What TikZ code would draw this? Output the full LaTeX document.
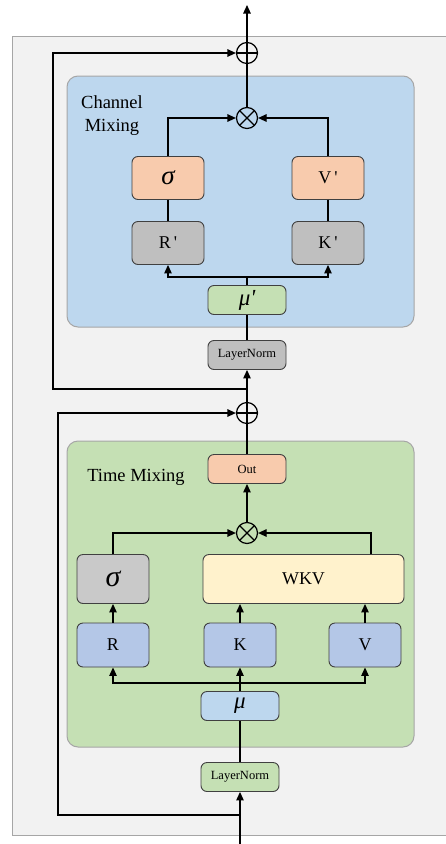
\documentclass[tikz,border=0pt]{standalone}
\usepackage{fontspec}
\setmainfont{Liberation Serif}[Ligatures=TeXOff]
\usetikzlibrary{arrows.meta}
\definecolor{bgout}{HTML}{F2F2F2}
\definecolor{bluebg}{HTML}{BDD7EE}
\definecolor{greenbg}{HTML}{C5E0B4}
\definecolor{orangec}{HTML}{F8CBAD}
\definecolor{grayc}{HTML}{BFBFBF}
\definecolor{grayd}{HTML}{C9C9C9}
\definecolor{bluec}{HTML}{B4C7E7}
\definecolor{yellowc}{HTML}{FFF2CC}
\definecolor{edgec}{HTML}{404040}
\definecolor{framec}{HTML}{A6A6A6}
\tikzset{
  box/.style={draw=edgec, line width=0.9pt, rounded corners=6pt, inner sep=0pt, align=center, font=\fontsize{18}{20}\selectfont},
  smallbox/.style={box, minimum width=78pt, minimum height=29pt, font=\fontsize{12.5}{15}\selectfont},
  midbox/.style={box, minimum width=72pt, minimum height=44pt},
  arr/.style={-{Triangle[length=8.5pt,width=7.5pt]}, line width=1.2pt},
  ln/.style={line width=1.2pt},
  opplus/.style={circle, draw, line width=1.2pt, minimum size=21pt, inner sep=0pt,
    path picture={\draw[line width=1.2pt] (path picture bounding box.north) -- (path picture bounding box.south)
      (path picture bounding box.west) -- (path picture bounding box.east);}},
  optimes/.style={circle, draw, line width=1.2pt, minimum size=21pt, inner sep=0pt,
    path picture={\draw[line width=1.2pt] (path picture bounding box.north west) -- (path picture bounding box.south east)
      (path picture bounding box.south west) -- (path picture bounding box.north east);}},
  title/.style={align=center, font=\fontsize{18.5}{23}\selectfont, inner sep=0pt}
}
\begin{document}
\begin{tikzpicture}[x=1pt, y=-1pt]
\useasboundingbox (0,0) rectangle (445,844);
% frames
\draw[framec, fill=bgout, line width=1pt] (12,36) rectangle (452,835);
\draw[framec, fill=bluebg, line width=1pt, rounded corners=11pt] (67,76) rectangle (414,327);
\draw[framec, fill=greenbg, line width=1pt, rounded corners=11pt] (67,441) rectangle (414,747);

% upper (channel mixing)
\node[opplus] (plusTop) at (247,53) {};
\node[optimes] (mulC) at (247,118) {};
\node[title] (chTitle) at (112,116) {Channel\\Mixing};
\node[midbox, fill=orangec, minimum height=43pt] (sigC) at (168,178) {\fontsize{27}{27}\selectfont\itshape σ};
\node[midbox, fill=orangec, minimum height=43pt] (vC) at (328,178) {V\,'};
\node[midbox, fill=grayc, minimum height=43pt] (rC) at (168,243) {R\,'};
\node[midbox, fill=grayc, minimum height=43pt] (kC) at (328,243) {K\,'};
\node[smallbox, fill=greenbg] (muC) at (247,300) {\fontsize{23}{23}\selectfont\itshape μ'};
\node[smallbox, fill=grayc] (lnC) at (247,355) {LayerNorm};
\coordinate (outTop) at (247,5);
\coordinate (brC) at (247,277);
\coordinate (s1) at (247,389);
\coordinate (s1c) at (53,389);

\draw[arr] (plusTop.north) -- (outTop);
\draw[ln] (mulC.north) -- (plusTop.south);
\draw[arr] (sigC.north) |- (mulC.west);
\draw[arr] (vC.north) |- (mulC.east);
\draw[ln] (sigC.south) -- (rC.north);
\draw[ln] (vC.south) -- (kC.north);
\draw[ln] (muC.north) -- (brC);
\draw[arr] (brC) -| (rC.south);
\draw[arr] (brC) -| (kC.south);
\draw[ln] (lnC.north) -- (muC.south);
\draw[arr] (s1) -- (s1c) |- (plusTop.west);

% lower (time mixing)
\node[opplus] (plusT) at (247,413) {};
\node[title] (tmTitle) at (136,477) {Time Mixing};
\node[smallbox, fill=orangec] (outN) at (247,469) {Out};
\node[optimes] (mulT) at (247,533) {};
\node[midbox, fill=grayd, minimum height=49pt] (sigT) at (113,579) {\fontsize{30}{30}\selectfont\itshape σ};
\node[midbox, fill=yellowc, minimum width=201pt, minimum height=49pt] (wkv) at (303.5,579) {WKV};
\node[midbox, fill=bluec] (rT) at (113,645) {R};
\node[midbox, fill=bluec] (kT) at (240,645) {K};
\node[midbox, fill=bluec] (vT) at (365,645) {V};
\node[smallbox, fill=bluebg] (muT) at (240,706) {\fontsize{23}{23}\selectfont\itshape μ};
\node[smallbox, fill=greenbg] (lnT) at (240,777) {LayerNorm};
\coordinate (br2) at (240,683);
\coordinate (s2) at (240,815);
\coordinate (s2c) at (58,815);
\coordinate (inB) at (240,844);

\draw[arr] (inB) -- (lnT.south);
\draw[ln] (lnT.north) -- (muT.south);
\draw[arr] (s2) -- (s2c) |- (plusT.west);
\draw[ln] (muT.north) -- (br2);
\draw[arr] (br2) -| (rT.south);
\draw[arr] (br2) -| (vT.south);
\draw[arr] (br2) -- (kT.south);
\draw[arr] (rT.north) -- (sigT.south);
\draw[arr] (kT.north) -- (kT.north |- wkv.south);
\draw[arr] (vT.north) -- (vT.north |- wkv.south);
\draw[arr] (sigT.north) |- (mulT.west);
\draw[arr] ([xshift=67.5pt]wkv.north) |- (mulT.east);
\draw[arr] (mulT.north) -- (outN.south);
\draw[ln] (outN.north) -- (plusT.south);
\draw[arr] (plusT.north) -- (lnC.south);
\end{tikzpicture}
\end{document}
